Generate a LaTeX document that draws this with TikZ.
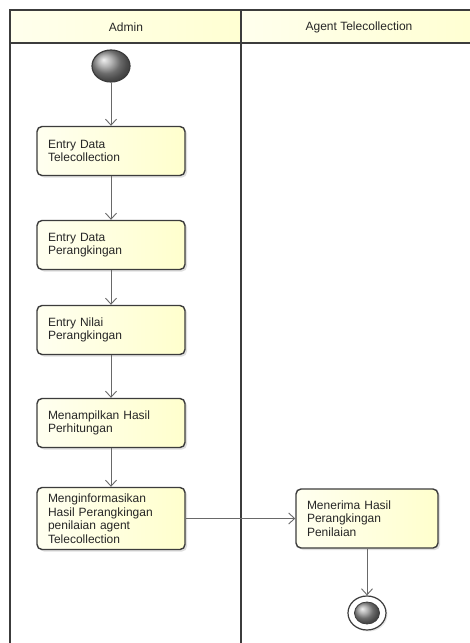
\documentclass[tikz,border=0pt]{standalone}
\usepackage{fontspec}
\setmainfont{Liberation Sans}
\usetikzlibrary{arrows.meta,shapes.geometric,shadows}

\definecolor{laneyellow}{RGB}{255,255,210}
\definecolor{boxyellow}{RGB}{255,255,205}
\definecolor{edgegray}{RGB}{60,60,60}
\definecolor{flowgray}{RGB}{105,105,105}

\begin{document}
\begin{tikzpicture}[x=1pt,y=-1pt,
        font=\fontsize{12}{13.5}\selectfont,
        act/.style={draw=edgegray,line width=1.4pt,rounded corners=5pt,
            left color=boxyellow!30,right color=boxyellow,text=black!85,
            drop shadow={shadow xshift=2pt,shadow yshift=-2pt,opacity=0.25},
            minimum width=148pt,minimum height=49pt,text width=126pt,
            inner xsep=11pt,align=left},
        flow/.style={draw=flowgray,line width=0.9pt,-{Straight Barb[length=6pt,width=11pt]}},
        lane/.style={draw=edgegray,line width=2pt},
        dot/.style={ellipse,draw=edgegray,line width=1.2pt,ball color=gray!80}
    ]
    \useasboundingbox (0,0) rectangle (470,643);
    \fill[white] (0,0) rectangle (470,643);

    % swimlanes
    \fill[left color=laneyellow!40,right color=laneyellow] (10,10) rectangle (241,43);
    \fill[left color=laneyellow!40,right color=laneyellow] (241,10) rectangle (476,43);
    \draw[lane] (476,10) -- (10,10) -- (10,643);
    \draw[lane] (241,10) -- (241,643);
    \draw[lane] (10,43) -- (476,43);
    \node (admin) [text=black!85] at (126,27) {Admin};
    \node (agent) [text=black!85] at (359,27) {Agent Telecollection};

    % start / end
    \node (start) [dot,minimum width=38pt,minimum height=32pt] at (111,66) {};
    \node (finish) [ellipse,draw=edgegray,line width=1.2pt,fill=white,
        drop shadow={shadow xshift=1.5pt,shadow yshift=-1.5pt,opacity=0.2},
        minimum width=38pt,minimum height=34pt] at (367,613) {};
    \node (finishdot) [dot,line width=0.8pt,minimum width=25pt,minimum height=22pt] at (finish.center) {};

    % actions
    \node (entrydata) [act] at (111,151) {Entry Data\\Telecollection};
    \node (entryrank) [act] at (111,245) {Entry Data\\Perangkingan};
    \node (entrynilai) [act] at (111,330) {Entry Nilai\\Perangkingan};
    \node (tampil) [act] at (111,423) {Menampilkan Hasil\\Perhitungan};
    \node (info) [act,minimum height=62pt] at (111,518.5)
        {Menginformasikan\\Hasil Perangkingan\\penilaian agent\\Telecollection};
    \node (terima) [act,minimum width=142pt,text width=120pt,minimum height=59pt]
        at (367,518.5) {Menerima Hasil\\Perangkingan\\Penilaian};

    \foreach \a/\b in {start/entrydata,entrydata/entryrank,entryrank/entrynilai,
            entrynilai/tampil,tampil/info,info/terima,terima/finish} {
        \draw[flow] (\a) -- (\b);
    }
\end{tikzpicture}
\end{document}
